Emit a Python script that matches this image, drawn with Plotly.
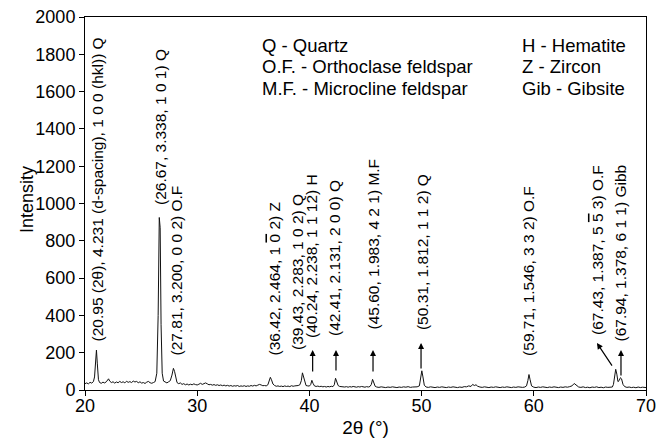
import plotly.graph_objects as go

# ---------------- data ----------------
two_theta = [
    20.00, 20.15, 20.30, 20.45, 20.60, 20.75, 20.85, 20.95, 21.02, 21.10, 21.20, 21.30, 21.45, 21.60, 21.75,
    21.90, 22.00, 22.10, 22.20, 22.35, 22.50, 22.65, 22.80, 22.95, 23.10, 23.25, 23.40, 23.55, 23.70, 23.85,
    24.00, 24.15, 24.30, 24.45, 24.60, 24.75, 24.90, 25.05, 25.20, 25.35, 25.50, 25.65, 25.80, 25.95, 26.10,
    26.25, 26.40, 26.52, 26.62, 26.70, 26.78, 26.88, 27.00, 27.15, 27.30, 27.45, 27.60, 27.75, 27.88, 27.98,
    28.08, 28.20, 28.35, 28.50, 28.65, 28.80, 28.95, 29.10, 29.25, 29.40, 29.55, 29.70, 29.85, 30.00, 30.15,
    30.30, 30.45, 30.60, 30.75, 30.90, 31.05, 31.20, 31.35, 31.50, 31.65, 31.80, 31.95, 32.10, 32.25, 32.40,
    32.55, 32.70, 32.85, 33.00, 33.15, 33.30, 33.45, 33.60, 33.75, 33.90, 34.05, 34.20, 34.35, 34.50, 34.65,
    34.80, 34.95, 35.10, 35.25, 35.40, 35.55, 35.70, 35.85, 36.00, 36.15, 36.30, 36.42, 36.52, 36.62, 36.75,
    36.90, 37.05, 37.20, 37.35, 37.50, 37.65, 37.80, 37.95, 38.10, 38.25, 38.40, 38.55, 38.70, 38.85, 39.00,
    39.15, 39.28, 39.38, 39.48, 39.58, 39.70, 39.85, 40.00, 40.12, 40.22, 40.32, 40.45, 40.60, 40.75, 40.90,
    41.05, 41.20, 41.35, 41.50, 41.65, 41.80, 41.95, 42.10, 42.22, 42.33, 42.44, 42.56, 42.70, 42.85, 43.00,
    43.15, 43.30, 43.45, 43.60, 43.75, 43.90, 44.05, 44.20, 44.35, 44.50, 44.65, 44.80, 44.95, 45.10, 45.25,
    45.40, 45.52, 45.63, 45.74, 45.86, 46.00, 46.20, 46.40, 46.60, 46.80, 47.00, 47.20, 47.40, 47.60, 47.80,
    48.00, 48.20, 48.40, 48.60, 48.80, 49.00, 49.20, 49.40, 49.60, 49.80, 49.92, 50.02, 50.12, 50.24, 50.40,
    50.60, 50.80, 51.00, 51.20, 51.40, 51.60, 51.80, 52.00, 52.20, 52.40, 52.60, 52.80, 53.00, 53.20, 53.40,
    53.60, 53.80, 54.00, 54.20, 54.40, 54.55, 54.70, 54.85, 55.00, 55.20, 55.40, 55.60, 55.80, 56.00, 56.20,
    56.40, 56.60, 56.80, 57.00, 57.20, 57.40, 57.60, 57.80, 58.00, 58.20, 58.40, 58.60, 58.80, 59.00, 59.20,
    59.35, 59.47, 59.57, 59.67, 59.80, 60.00, 60.20, 60.40, 60.60, 60.80, 61.00, 61.20, 61.40, 61.60, 61.80,
    62.00, 62.20, 62.40, 62.60, 62.80, 63.00, 63.20, 63.40, 63.60, 63.80, 64.00, 64.20, 64.40, 64.60, 64.80,
    65.00, 65.20, 65.40, 65.60, 65.80, 66.00, 66.20, 66.40, 66.60, 66.80, 67.00, 67.10, 67.20, 67.30, 67.40,
    67.50, 67.60, 67.72, 67.82, 67.95, 68.10, 68.30, 68.50, 68.70, 68.90, 69.10, 69.30, 69.50, 69.70, 69.90,
    70.00,
]
intensity = [
    34, 38, 33, 41, 37, 45, 70, 150, 214, 140, 55, 40, 36, 42, 38,
    44, 52, 60, 48, 40, 44, 37, 43, 39, 46, 40, 44, 38, 47, 41,
    45, 40, 48, 43, 46, 39, 44, 37, 40, 35, 42, 46, 39, 36, 40,
    45, 90, 400, 925, 870, 350, 90, 48, 42, 38, 44, 50, 80, 116, 100,
    62, 40, 34, 38, 30, 34, 28, 32, 27, 31, 28, 33, 29, 27, 31,
    36, 30, 34, 38, 33, 28, 30, 26, 29, 25, 28, 24, 27, 23, 26,
    22, 25, 21, 24, 20, 23, 21, 24, 19, 22, 20, 23, 19, 22, 20,
    24, 21, 25, 22, 26, 30, 27, 23, 24, 22, 28, 45, 68, 55, 32,
    24, 20, 22, 19, 21, 18, 22, 19, 21, 18, 23, 20, 22, 21, 24,
    28, 50, 92, 70, 35, 24, 22, 21, 30, 52, 36, 22, 19, 21, 18,
    20, 17, 19, 16, 19, 17, 20, 18, 28, 63, 45, 24, 19, 17, 19,
    16, 18, 15, 18, 16, 19, 17, 15, 18, 16, 19, 17, 15, 18, 16,
    19, 30, 57, 38, 20, 16, 14, 17, 15, 13, 16, 14, 17, 15, 13,
    16, 14, 17, 15, 18, 14, 16, 15, 17, 22, 60, 103, 70, 26, 16,
    14, 17, 15, 13, 16, 14, 17, 15, 13, 16, 14, 17, 15, 13, 16,
    14, 18, 17, 22, 19, 30, 24, 28, 20, 16, 14, 17, 15, 13, 16,
    14, 17, 15, 13, 16, 14, 17, 15, 13, 16, 14, 17, 15, 14, 16,
    22, 50, 83, 55, 22, 15, 13, 16, 14, 17, 15, 13, 16, 14, 17,
    15, 13, 16, 14, 17, 15, 18, 22, 35, 24, 16, 14, 17, 13, 15,
    12, 16, 14, 17, 13, 15, 12, 16, 14, 17, 16, 30, 80, 111, 85,
    45, 50, 66, 60, 30, 18, 14, 16, 13, 15, 12, 16, 13, 15, 14,
    13,
]

OVER = '<span style="text-decoration:overline">{}</span>'

# peak labels: text, anchor 2θ, anchor intensity (bottom of the rotated text)
label_texts = [
    "(20.95 (2θ), 4.231 (d-spacing), 1 0 0 (hkl)) Q",
    "(26.67, 3.338, 1 0 1) Q",
    "(27.81, 3.200, 0 0 2) O.F",
    "(36.42, 2.464, 1 " + OVER.format("0") + " 2) Z",
    "(39.43, 2.283, 1 0 2) Q",
    "(40.24, 2.238, 1 1 12) H",
    "(42.41, 2.131, 2 0 0) Q",
    "(45.60, 1.983, 4 2 1) M.F",
    "(50.31, 1.812, 1 1 2) Q",
    "(59.71, 1.546, 3 3 2) O.F",
    "(67.43, 1.387, 5 " + OVER.format("5") + " 3) O.F",
    "(67.94, 1.378, 6 1 1) Gibb",
]
label_x = [21.11, 26.68, 28.24, 36.93, 38.98, 40.14, 42.28, 45.67, 50.04, 59.57, 65.63, 67.77]
label_y = [252, 981, 177, 177, 204, 268, 279, 311, 311, 172, 284, 252]

# arrows: head (2θ, I) and tail (2θ, I)
arrow_head_x = [40.29, 42.37, 45.67, 49.95, 65.63, 67.77]
arrow_head_y = [214, 214, 214, 252, 252, 214]
arrow_tail_x = [40.29, 42.37, 45.67, 49.95, 67.06, 67.77]
arrow_tail_y = [91, 97, 91, 107, 123, 70]

key_left = ["Q - Quartz", "O.F. - Orthoclase feldspar", "M.F. - Microcline feldspar"]
key_right = ["H - Hematite", "Z - Zircon", "Gib - Gibsite"]

x_ticks = [20, 30, 40, 50, 60, 70]
y_ticks = [0, 200, 400, 600, 800, 1000, 1200, 1400, 1600, 1800, 2000]
y_title = "Intensity"
x_title = "2θ (°)"

FONT = "Arial, 'Liberation Sans', Helvetica, sans-serif"

fig = go.Figure()
fig.add_trace(go.Scatter(
    x=two_theta, y=intensity, mode="lines",
    line=dict(color="#111111", width=1),
    showlegend=False, hoverinfo="skip",
))

annotations = []
for t, x, y in zip(label_texts, label_x, label_y):
    annotations.append(dict(
        x=x, y=y, xref="x", yref="y", text=t, showarrow=False,
        textangle=-90, xanchor="center", yanchor="bottom",
        font=dict(family=FONT, size=15.5, color="black"),
    ))
for hx, hy, tx, ty in zip(arrow_head_x, arrow_head_y, arrow_tail_x, arrow_tail_y):
    annotations.append(dict(
        x=hx, y=hy, xref="x", yref="y", ax=tx, ay=ty, axref="x", ayref="y",
        text="", showarrow=True, arrowhead=2, arrowsize=1, arrowwidth=1.2,
        arrowcolor="black",
    ))
row_y = [0.9236, 0.866, 0.8083]
for i in range(3):
    annotations.append(dict(
        x=0.312, y=row_y[i], xref="paper", yref="paper", text=key_left[i],
        showarrow=False, xanchor="left", yanchor="middle",
        font=dict(family=FONT, size=18.5, color="black"),
    ))
    annotations.append(dict(
        x=0.7754, y=row_y[i], xref="paper", yref="paper", text=key_right[i],
        showarrow=False, xanchor="left", yanchor="middle",
        font=dict(family=FONT, size=18.5, color="black"),
    ))
# y-axis title placed precisely
annotations.append(dict(
    x=-0.1034, y=0.512, xref="paper", yref="paper", text=y_title,
    showarrow=False, textangle=-90, xanchor="center", yanchor="middle",
    font=dict(family=FONT, size=18, color="black"),
))

axis_common = dict(
    showline=True, linecolor="black", linewidth=1, mirror=True,
    ticks="outside", ticklen=5, tickcolor="black", tickwidth=1,
    showgrid=False, zeroline=False, automargin=False,
    ticklabeloverflow="allow",
    tickfont=dict(family=FONT, size=18, color="black"),
)

fig.update_layout(
    template="none",
    width=656, height=440,
    margin=dict(l=85, r=10, t=17, b=50, autoexpand=False),
    paper_bgcolor="white", plot_bgcolor="white",
    font=dict(family=FONT, color="black"),
    xaxis=dict(range=[20, 70], tickvals=x_ticks, ticklabelstandoff=-6,
               title=dict(text=x_title, font=dict(family=FONT, size=19), standoff=6),
               **axis_common),
    yaxis=dict(range=[0, 2000], tickvals=y_ticks, **axis_common),
    annotations=annotations,
)

# remove the page's default body margin so the figure sits at the window origin
fig.write_html(
    "out.html",
    config={"displayModeBar": False},
    post_script="document.body.style.margin='0';document.body.style.overflow='hidden';",
)
